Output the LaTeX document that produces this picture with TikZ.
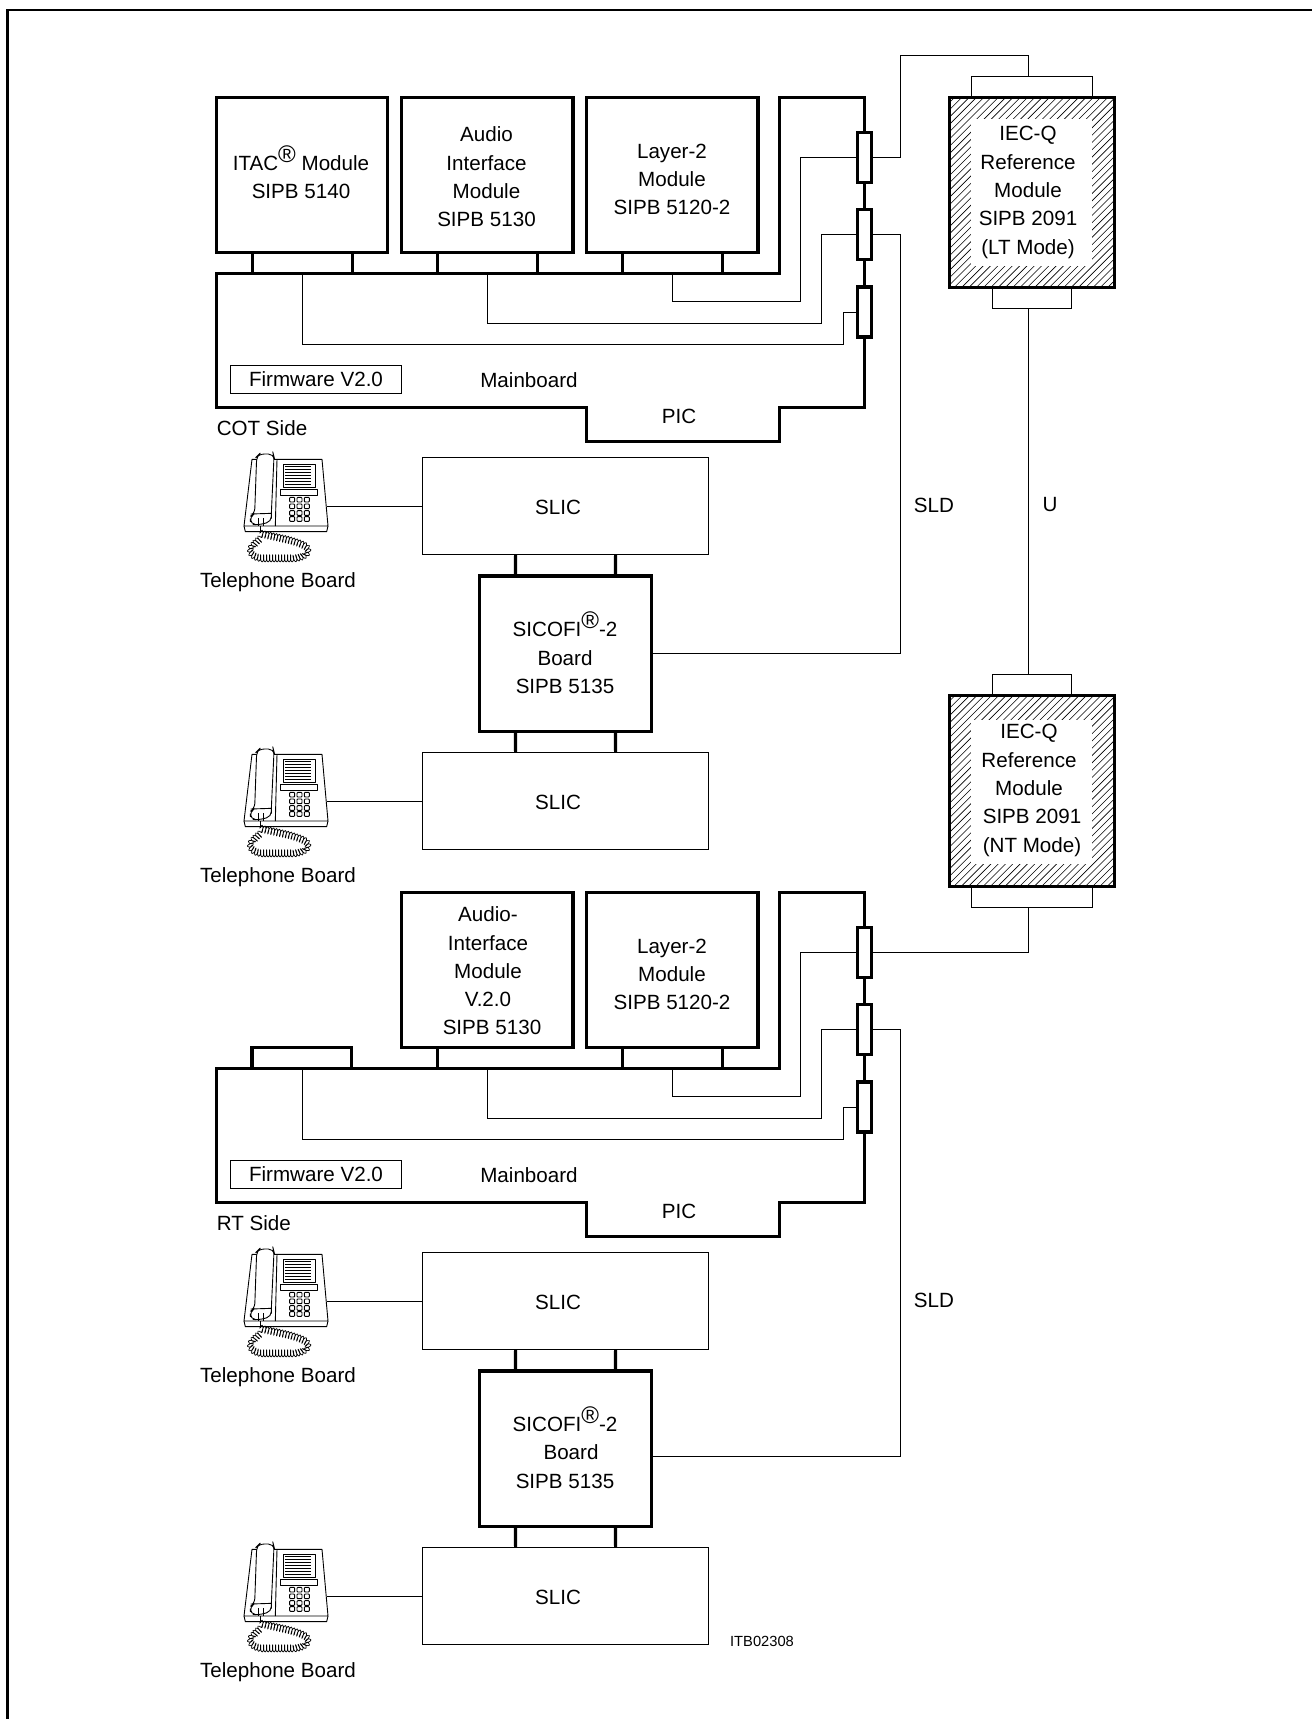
\documentclass[tikz,border=0pt]{standalone}
\usepackage{fontspec}
\setmainfont{Liberation Sans}
\usetikzlibrary{decorations.pathmorphing}
\newcommand{\regmark}{\raisebox{8pt}{\fontsize{24}{24}\selectfont ®}}
\tikzset{
  x=1pt,y=-1pt,
  heavy/.style={line width=3.2pt,line join=miter},
  thin line/.style={line width=1pt,line join=miter},
  modbox/.style={draw,heavy,fill=white,inner sep=0pt,outer sep=0pt},
  plainbox/.style={draw,thin line,fill=white,inner sep=0pt,outer sep=0pt},
  txt/.style={font=\fontsize{20.6}{28.3}\selectfont,align=center,inner sep=0pt,outer sep=0pt},
  txtl/.style={txt,anchor=west},
  res/.style={modbox,minimum width=14pt,minimum height=50pt},
  hatched/.style={draw=none,inner sep=0pt,outer sep=0pt,minimum width=165pt},
  frame/.style={line width=2.2pt},
}
% ---------- telephone set drawn in a 1/3 px grid
\newcommand{\telset}[2]{%
\begin{scope}[shift={(238,450+#1)},xscale=1/3,yscale=1/3,line width=.9pt,line join=round]
 \draw (42,28) -- (252,28) -- (270,228) -- (18,228) -- cycle;
 \draw (18,228) -- (22,245) -- (266,245) -- (270,228);
 \draw (117,28) -- (112,228);
 \draw[fill=white,rounded corners=5pt] (64,12) -- (106,12) -- (108,20) -- (100,190) -- (100,215) -- (60,225) -- (38,222) -- (36,200) -- (50,190) -- (56,20) -- cycle;
 \draw (38,192) -- (100,190);
 \draw (60,205) -- (60,228) (76,205) -- (76,228);
 \draw (135,42) rectangle (232,112);
 \foreach \yy in {50,59,68,77,86,95,103} \draw[line width=1pt] (140,\yy) -- (220,\yy);
 \draw (128,118) rectangle (238,135);
 \foreach \xx in {155,177,199} \foreach \yy in {142,162,182,200}
   \draw[rounded corners=.8pt] (\xx,\yy) rectangle ++(15,14);
 \draw (67,228) -- (67,248);
 \draw[line width=.7pt,decorate,decoration={coil,aspect=.25,segment length=3pt,amplitude=3.6pt}]
   (65,250) .. controls (110,262) and (170,270) .. (200,288) .. controls (215,300) and (210,318) .. (170,325)
   -- (75,325) .. controls (40,322) and (30,300) .. (48,285) .. controls (55,275) and (65,270) .. (70,262);
\end{scope}
\coordinate (#2) at (327,506+#1);}
% ---------- mainboard parts common to both sides
\newcommand{\mainboard}{%
 \coordinate (mbtop) at (0,273.3);
 \draw[heavy] (216.8,273.3) -- (779.3,273.3) -- (779.3,97.3) -- (864.3,97.3) -- (864.3,407.3) -- (779.3,407.3) -- (779.3,441.7) -- (586.4,441.7) -- (586.4,407.3) -- (216.8,407.3) -- cycle;
 \node[res] (r1) at (864.3,157.2) {};
 \node[res] (r2) at (864.3,234.7) {};
 \node[res] (r3) at (864.3,312) {};
 \node[modbox,minimum width=171.6pt,minimum height=155.4pt] (l2) at (672.2,175) {};
 \node[txt] (l2t) at (672,179.3) {Layer-2\\Module\\SIPB 5120-2};
 \draw[heavy] ([xshift=-50pt]l2.south) -- ([xshift=-50pt]l2.south |- mbtop);
 \draw[heavy] ([xshift=50pt]l2.south) -- ([xshift=50pt]l2.south |- mbtop);
 \coordinate (a1) at (672,301.7);
 \coordinate (a2) at (800.3,301.7);
 \coordinate (b1) at (487.3,323);
 \coordinate (b2) at (821.7,323);
 \coordinate (c1) at (302,344);
 \coordinate (c2) at (843.6,344);
 \draw[thin line] (a1 |- mbtop) -- (a1) -- (a2) |- (r1.west);
 \draw[thin line] (b1 |- mbtop) -- (b1) -- (b2) |- (r2.west);
 \draw[thin line] (c1 |- mbtop) -- (c1) -- (c2) |- (r3.west);
 \node[plainbox,minimum width=171pt,minimum height=28.4pt,txt] (fw) at (316,379.2) {Firmware V2.0};
 \node[txt] (mbt) at (529,380) {Mainboard};
 \node[txt] (pic) at (679,416) {PIC};
}
% ---------- subscriber line: telephones, SLICs and codec board
\newcommand{\subscriber}{%
 \node[plainbox,minimum width=285.3pt,minimum height=97.6pt,txt] (slica) at (565.6,505.8) {};
 \node[txt] (slicat) at (558,507.5) {SLIC};
 \node[plainbox,minimum width=285.3pt,minimum height=97.6pt,txt] (slicb) at (565.6,800.8) {};
 \node[txt] (slicbt) at (558,802.5) {SLIC};
 \node[modbox,minimum width=172.4pt,minimum height=155.6pt] (sico) at (565.5,653.8) {};
 \foreach \side in {-50,50} {
  \draw[heavy] ([xshift=\side pt]slica.south) -- ([xshift=\side pt]sico.north);
  \draw[heavy] ([xshift=\side pt]sico.south) -- ([xshift=\side pt]slicb.north);
 }
 \telset{0}{pa}
 \telset{295}{pb}
 \draw[thin line] (pa) -- (pa -| slica.west);
 \draw[thin line] (pb) -- (pb -| slicb.west);
 \node[txt] (tba) at (278,582) {Telephone Board};
 \node[txt] (tbb) at (278,877) {Telephone Board};
}
\begin{document}
\begin{tikzpicture}
\useasboundingbox (0,0) rectangle (1312,1719);
% page frame
\draw[frame] (7.5,1719) -- (7.5,10) -- (1312,10);
% COT side
\begin{scope}[name prefix=cot-]
 \mainboard
 \node[modbox,minimum width=171pt,minimum height=155.4pt] (itac) at (302.3,175) {};
 \node[txt] (itact) at (301,172.5) {ITAC\regmark{} Module\\SIPB 5140};
 \node[modbox,minimum width=171.4pt,minimum height=155.4pt] (audio) at (487.3,175) {};
 \node[txt] (audiot) at (486.5,177) {Audio\\Interface\\Module\\SIPB 5130};
 \foreach \side in {-50,50} {
  \draw[heavy] ([xshift=\side pt]itac.south) -- ([xshift=\side pt]itac.south |- mbtop);
  \draw[heavy] ([xshift=\side pt]audio.south) -- ([xshift=\side pt]audio.south |- mbtop);
 }
 \node[txtl] (side) at (216.8,428.5) {COT Side};
 \subscriber
 \node[txt] (sicot) at (565,653) {SICOFI\regmark{}-2\\Board\\SIPB 5135};
\end{scope}
% RT side
\begin{scope}[shift={(0,795)},name prefix=rt-]
 \mainboard
 \node[modbox,minimum width=171.4pt,minimum height=155.4pt] (audio) at (487.3,175) {};
 \node[txt] (audiot) at (488,176) {Audio-\\Interface\\Module\\V.2.0\\\hspace*{8pt}SIPB 5130};
 \draw[heavy] ([xshift=-50pt]audio.south) -- ([xshift=-50pt]audio.south |- mbtop);
 \coordinate (stubl) at (252,252.7);
 \coordinate (stubr) at (351.6,252.7);
 \draw[heavy] (stubl |- mbtop) -- (stubl) -- (stubr) -- (stubr |- mbtop);
 \node[txtl] (side) at (216.8,428.5) {RT Side};
 \subscriber
 \node[txt] (sicot) at (565,652.5) {SICOFI\regmark{}-2\\\hspace*{12pt}Board\\SIPB 5135};
\end{scope}
% IEC-Q modules
\node[hatched,minimum height=190.4pt] (lt) at (1032.2,192.5) {};
\node[hatched,minimum height=191pt] (nt) at (1031.7,791.2) {};
\foreach \m in {lt,nt} {
 \begin{scope}
  \clip (\m.south west) rectangle (\m.north east);
  \foreach \k in {0,...,60}
   \draw[line width=.6pt] ([xshift={\k*7.3pt-200pt}]\m.south west) -- ++(200,-200);
 \end{scope}
}
\node[fill=white,inner sep=0pt,minimum width=120.5pt,minimum height=147pt] (ltw) at (1031.7,192.5) {};
\node[fill=white,inner sep=0pt,minimum width=121.5pt,minimum height=144pt] (ntw) at (1031.5,792) {};
\draw[heavy] (lt.south west) rectangle (lt.north east);
\draw[heavy] (nt.south west) rectangle (nt.north east);
\node[txt] (ltt) at (1028,192.5) {IEC-Q\\Reference\\Module\\SIPB 2091\\(LT Mode)};
\node[txt] (ntt) at (1029,790.5) {IEC-Q\\Reference\\Module\\\hspace*{6pt}SIPB 2091\\\hspace*{6pt}(NT Mode)};
% connectors between the modules
\coordinate (lttl) at (971.3,76);
\coordinate (lttr) at (1092.3,76);
\coordinate (ltbl) at (992.7,308.7);
\coordinate (ltbr) at (1071,308.7);
\coordinate (nttl) at (992.7,674.7);
\coordinate (nttr) at (1071,674.7);
\coordinate (ntbl) at (971.3,907);
\coordinate (ntbr) at (1092.3,907);
\coordinate (tapa) at (1028,76);
\coordinate (tapb) at (1028,308.7);
\coordinate (tapc) at (1028,674.7);
\coordinate (tapd) at (1028,907);
\coordinate (upa) at (900.3,55.3);
\coordinate (upb) at (1028,55.3);
\coordinate (sldtop) at (900.3,235);
\draw[thin line] (lttl |- lt.north) -- (lttl) -- (lttr) -- (lttr |- lt.north);
\draw[thin line] (ltbl |- lt.south) -- (ltbl) -- (ltbr) -- (ltbr |- lt.south);
\draw[thin line] (nttl |- nt.north) -- (nttl) -- (nttr) -- (nttr |- nt.north);
\draw[thin line] (ntbl |- nt.south) -- (ntbl) -- (ntbr) -- (ntbr |- nt.south);
\draw[thin line] (cot-r1.east) -| (upa) -- (upb) -- (tapa);
\draw[thin line] (tapb) -- (tapc);
\draw[thin line] (tapd) |- (rt-r1.east);
\draw[thin line] (cot-r2.east) -| (cot-sico.east -| sldtop) -- (cot-sico.east);
\coordinate (sldb) at (900.3,1456);
\draw[thin line] (rt-r2.east) -| (sldb) -- (sldb -| rt-sico.east);
% free labels
\node[txt] (sld1) at (934,505) {SLD};
\node[txt] (u) at (1050,505) {U};
\node[txt] (sld2) at (934,1300) {SLD};
\node[font=\fontsize{14.7}{16}\selectfont,inner sep=0pt] (itb) at (762,1641) {ITB02308};
\end{tikzpicture}
\end{document}
